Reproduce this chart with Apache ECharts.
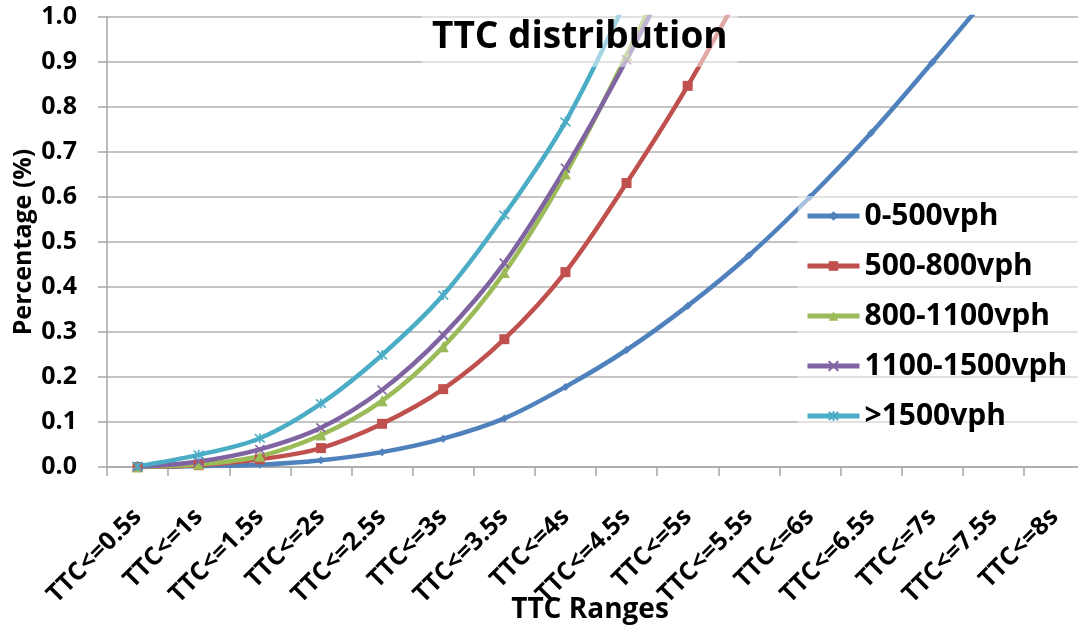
<!DOCTYPE html>
<html>
<head>
<meta charset="utf-8">
<script src="https://cdn.jsdelivr.net/npm/echarts@6/dist/echarts.min.js"></script>
<style>
  html, body { margin: 0; padding: 0; background: #ffffff; }
  #chart { width: 1078px; height: 629px; }
</style>
</head>
<body>
<div id="chart"></div>
<script>
// TTC range categories (x axis)
const categories = [
  'TTC<=0.5s', 'TTC<=1s', 'TTC<=1.5s', 'TTC<=2s', 'TTC<=2.5s', 'TTC<=3s',
  'TTC<=3.5s', 'TTC<=4s', 'TTC<=4.5s', 'TTC<=5s', 'TTC<=5.5s', 'TTC<=6s',
  'TTC<=6.5s', 'TTC<=7s', 'TTC<=7.5s', 'TTC<=8s'
];

// Series names
const seriesNames = ['0-500vph', '500-800vph', '800-1100vph', '1100-1500vph', '>1500vph'];

// Cumulative share per TTC range for each traffic-volume class
const vol0to500 = [0, 0.002, 0.005, 0.015, 0.033, 0.063, 0.108, 0.178, 0.26, 0.358, 0.47, 0.60, 0.742, 0.899, 1.06, null];
const vol500to800 = [0, 0.004, 0.017, 0.042, 0.096, 0.173, 0.284, 0.433, 0.631, 0.847, 1.09, null, null, null, null, null];
const vol800to1100 = [0, 0.006, 0.024, 0.071, 0.147, 0.267, 0.432, 0.651, 0.915, 1.2, null, null, null, null, null, null];
const vol1100to1500 = [0, 0.012, 0.039, 0.087, 0.171, 0.293, 0.453, 0.664, 0.905, 1.17, null, null, null, null, null, null];
const volOver1500 = [0.002, 0.027, 0.064, 0.141, 0.249, 0.382, 0.56, 0.767, 1.04, null, null, null, null, null, null, null];

const seriesValues = [vol0to500, vol500to800, vol800to1100, vol1100to1500, volOver1500];
const colors = ['#4F81BD', '#C0504D', '#9BBB59', '#8064A2', '#4BACC6'];

const FONT = '"Open Sans", "Noto Sans", sans-serif';

// Marker shapes: diamond, square, triangle, cross, asterisk
const markers = [
  { symbol: 'diamond', size: 8, stroke: false },
  { symbol: 'rect', size: 10, stroke: false },
  { symbol: 'triangle', size: 11, stroke: false },
  { symbol: 'path://M0,0L10,10M10,0L0,10', size: 9, stroke: true },
  { symbol: 'path://M0,0L10,10M10,0L0,10M5,-1L5,11', size: 10, stroke: true }
];

const series = seriesNames.map((name, i) => ({
  name: name,
  type: 'line',
  data: seriesValues[i],
  smooth: 0.35,
  clip: true,
  connectNulls: false,
  symbol: markers[i].symbol,
  symbolSize: markers[i].size,
  showSymbol: true,
  lineStyle: { color: colors[i], width: 4.5 },
  itemStyle: markers[i].stroke
    ? { color: colors[i], borderColor: colors[i], borderWidth: 1.6 }
    : { color: colors[i] },
  emphasis: { disabled: true },
  z: 2
}));

const chart = echarts.init(document.getElementById('chart'), null, { renderer: 'canvas' });

chart.setOption({
  animation: false,
  backgroundColor: '#ffffff',
  color: colors,
  title: {
    text: 'TTC distribution',
    left: 422,
    top: 7,
    padding: [8, 10, 8, 10],
    backgroundColor: 'rgba(255,255,255,0.5)',
    textStyle: {
      fontFamily: FONT,
      fontSize: 37,
      fontWeight: 'bold',
      color: '#000000',
      lineHeight: 44
    },
    z: 6
  },
  legend: {
    orient: 'vertical',
    left: 798,
    top: 196,
    padding: [5, 40, 8, 7],
    itemWidth: 52,
    itemHeight: 12,
    itemGap: 20,
    backgroundColor: 'rgba(255,255,255,0.5)',
    data: seriesNames,
    lineStyle: { width: 5 },
    textStyle: {
      fontFamily: FONT,
      fontSize: 30,
      fontWeight: 'bold',
      color: '#000000',
      lineHeight: 30
    },
    z: 4
  },
  grid: {
    left: 107,
    right: -7,
    top: 17,
    bottom: 162,
    containLabel: false,
    outerBoundsMode: 'none'
  },
  xAxis: {
    type: 'category',
    data: categories,
    boundaryGap: true,
    name: 'TTC Ranges',
    nameLocation: 'middle',
    nameGap: 129,
    nameMoveOverlap: false,
    nameTextStyle: {
      fontFamily: FONT,
      fontSize: 28,
      fontWeight: 'bold',
      color: '#000000',
      padding: [0, 12, 0, 0]
    },
    axisLine: { show: true, lineStyle: { color: '#a6a6a6', width: 1.5 } },
    axisTick: { show: true, alignWithLabel: false, length: 9, lineStyle: { color: '#a6a6a6', width: 1.5 } },
    axisLabel: {
      interval: 0,
      rotate: 45,
      margin: 46,
      fontFamily: FONT,
      fontSize: 25,
      fontWeight: 'bold',
      color: '#000000'
    },
    splitLine: { show: false }
  },
  yAxis: {
    type: 'value',
    min: 0,
    max: 1,
    interval: 0.1,
    name: 'Percentage (%)',
    nameLocation: 'middle',
    nameRotate: 90,
    nameGap: 71,
    nameMoveOverlap: false,
    nameTextStyle: {
      fontFamily: FONT,
      fontSize: 25,
      fontWeight: 'bold',
      color: '#000000'
    },
    axisLine: { show: true, lineStyle: { color: '#a6a6a6', width: 1.5 } },
    axisTick: { show: true, length: 9, lineStyle: { color: '#a6a6a6', width: 1.5 } },
    axisLabel: {
      margin: 30,
      fontFamily: FONT,
      fontSize: 25,
      fontWeight: 'bold',
      color: '#000000',
      formatter: (v) => v.toFixed(1)
    },
    splitLine: { show: true, lineStyle: { color: '#b0b0b0', width: 1.5 } }
  },
  series: series
});
</script>
</body>
</html>
